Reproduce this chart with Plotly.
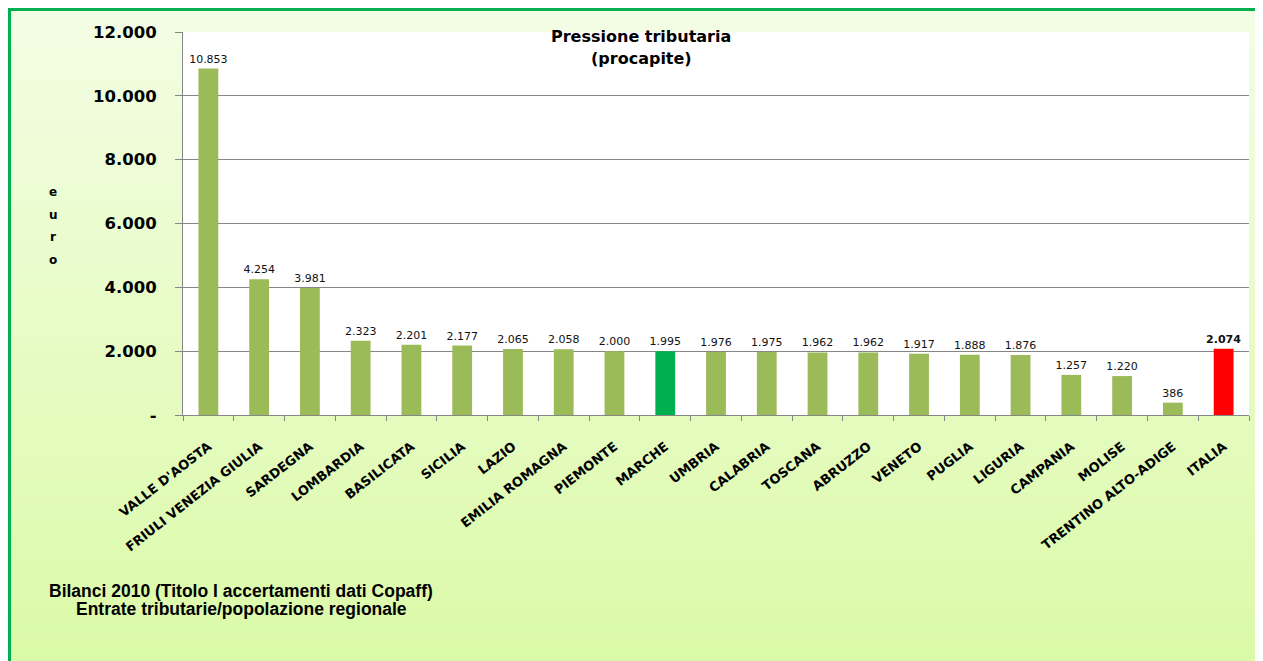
import plotly.graph_objects as go

# ---------------- data ----------------
regions = ["VALLE D'AOSTA", "FRIULI VENEZIA GIULIA", "SARDEGNA", "LOMBARDIA",
           "BASILICATA", "SICILIA", "LAZIO", "EMILIA ROMAGNA", "PIEMONTE",
           "MARCHE", "UMBRIA", "CALABRIA", "TOSCANA", "ABRUZZO", "VENETO",
           "PUGLIA", "LIGURIA", "CAMPANIA", "MOLISE", "TRENTINO ALTO-ADIGE",
           "ITALIA"]
values = [10853, 4254, 3981, 2323, 2201, 2177, 2065, 2058, 2000, 1995,
          1976, 1975, 1962, 1962, 1917, 1888, 1876, 1257, 1220, 386, 2074]
y_ticks = [0, 2000, 4000, 6000, 8000, 10000, 12000]

title_lines = ["Pressione tributaria", "(procapite)"]
axis_word = "euro"
source_lines = ["Bilanci 2010 (Titolo I accertamenti dati Copaff)",
                "Entrate tributarie/popolazione regionale"]

# ---------------- styling ----------------
OFF = 8                      # page body margin
W, H = 1263 - OFF, 661 - OFF
PLOT_L, PLOT_R, PLOT_T, PLOT_B = 183, 1249, 32, 415   # page pixels
L, T = PLOT_L - OFF, PLOT_T - OFF
R = W - (PLOT_R - OFF)
B = H - (PLOT_B - OFF)
PW, PH = W - L - R, H - T - B

BASE = "#9BBB59"
HIGHLIGHT = {"MARCHE": "#00B050", "ITALIA": "#FF0000"}
GRID = "#868686"
BORDER = "#00B050"


def it_num(v):
    return f"{v:,}".replace(",", ".")


def px_x(px):           # page px -> paper
    return (px - OFF - L) / PW


def px_y(py):
    return (H - B - (py - OFF)) / PH


colors = [HIGHLIGHT.get(r, BASE) for r in regions]
texts = [("<b>%s</b>" % it_num(v)) if r == "ITALIA" else it_num(v)
         for r, v in zip(regions, values)]
tick_text = ["-" if v == 0 else it_num(v) for v in y_ticks]

fig = go.Figure(go.Bar(
    x=regions, y=values, marker=dict(color=colors, line=dict(width=0)),
    text=texts, textposition="outside", cliponaxis=False, constraintext="none",
    textfont=dict(family="DejaVu Sans", size=11, color="#111111"),
    hoverinfo="x+y",
))

# gradient background as horizontal bands
shapes = []
top_c = (243, 253, 228)
bot_c = (219, 250, 168)
y_start, y_end, step = 9, 661, 4
n = (y_end - y_start) // step
for i in range(n):
    y0 = y_start + i * step
    t = i / max(n - 1, 1)
    c = tuple(round(a + (b - a) * t) for a, b in zip(top_c, bot_c))
    shapes.append(dict(type="rect", xref="paper", yref="paper", layer="below",
                       x0=px_x(8), x1=px_x(1263), y0=px_y(min(y0 + step + 1, 661)),
                       y1=px_y(y0),
                       fillcolor="rgb(%d,%d,%d)" % c, line=dict(width=0)))
# white plot area
shapes.append(dict(type="rect", xref="x domain", yref="y domain", layer="below",
                   x0=0, x1=1, y0=0, y1=1, fillcolor="white", line=dict(width=0)))
# green border (top and left) as filled strips
shapes.append(dict(type="rect", xref="paper", yref="paper", layer="above",
                   x0=px_x(8), x1=px_x(1263), y0=px_y(11), y1=px_y(8),
                   fillcolor=BORDER, line=dict(width=0)))
shapes.append(dict(type="rect", xref="paper", yref="paper", layer="above",
                   x0=px_x(8), x1=px_x(11), y0=px_y(661), y1=px_y(8),
                   fillcolor=BORDER, line=dict(width=0)))

annotations = []
for txt, yc in zip(title_lines, [37, 58]):
    annotations.append(dict(text="<b>%s</b>" % txt, x=px_x(641), y=px_y(yc),
                            xref="paper", yref="paper", showarrow=False,
                            xanchor="center", yanchor="middle",
                            font=dict(family="DejaVu Sans", size=16, color="black")))
for i, ch in enumerate(axis_word):
    annotations.append(dict(text="<b>%s</b>" % ch, x=px_x(53), y=px_y(192 + i * 22.7),
                            xref="paper", yref="paper", showarrow=False,
                            xanchor="center", yanchor="middle",
                            font=dict(family="DejaVu Sans", size=12, color="black")))
for txt, yc in zip(source_lines, [591, 609]):
    annotations.append(dict(text="<b>%s</b>" % txt, x=px_x(241), y=px_y(yc),
                            xref="paper", yref="paper", showarrow=False,
                            xanchor="center", yanchor="middle",
                            font=dict(family="Liberation Sans", size=17.5, color="black")))

fig.update_layout(
    width=W, height=H,
    margin=dict(l=L, r=R, t=T, b=B, pad=0),
    paper_bgcolor="white", plot_bgcolor="rgba(0,0,0,0)",
    showlegend=False, bargap=0.61,
    shapes=shapes, annotations=annotations,
    xaxis=dict(type="category", tickangle=-38, showline=True, linecolor=GRID,
               linewidth=1, ticks="outside", tickson="boundaries", ticklen=5,
               tickcolor=GRID, ticklabelstandoff=18, showgrid=False,
               tickfont=dict(family="DejaVu Sans", size=13, color="black",
                             weight="bold"),
               fixedrange=True),
    yaxis=dict(range=[0, 12000], tickvals=y_ticks, ticktext=tick_text,
               showline=True, linecolor=GRID, linewidth=1, ticks="outside",
               ticklen=7, tickcolor=GRID, ticklabelstandoff=15,
               showgrid=True, gridcolor=GRID, gridwidth=1, zeroline=False,
               tickfont=dict(family="DejaVu Sans", size=16.5, color="black",
                             weight="bold"),
               fixedrange=True),
)

fig.write_html("out.html")
